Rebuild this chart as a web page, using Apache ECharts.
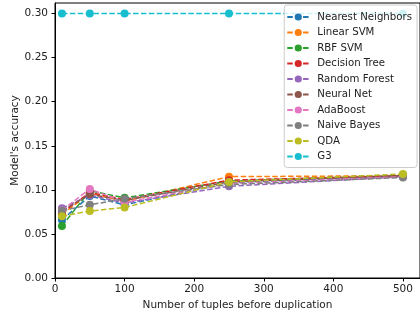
<!DOCTYPE html>
<html>
<head>
<meta charset="utf-8">
<script src="https://cdn.jsdelivr.net/npm/echarts@6/dist/echarts.min.js"></script>
<style>
  html, body { margin: 0; padding: 0; background: #fff; }
  #container { width: 420px; height: 315px; }
</style>
</head>
<body>
<div id="container"></div>
<script>
// x values: number of tuples before duplication
var tuples = [10, 50, 100, 250, 500];

var names = ['Nearest Neighbors', 'Linear SVM', 'RBF SVM', 'Decision Tree', 'Random Forest',
             'Neural Net', 'AdaBoost', 'Naive Bayes', 'QDA', 'G3'];

var nearestNeighbors = [0.066, 0.093, 0.083, 0.108, 0.116];
var linearSvm        = [0.072, 0.096, 0.087, 0.115, 0.116];
var rbfSvm           = [0.059, 0.099, 0.091, 0.110, 0.117];
var decisionTree     = [0.074, 0.097, 0.089, 0.111, 0.116];
var randomForest     = [0.079, 0.094, 0.085, 0.104, 0.115];
var neuralNet        = [0.076, 0.095, 0.088, 0.109, 0.116];
var adaBoost         = [0.077, 0.101, 0.086, 0.107, 0.115];
var naiveBayes       = [0.0765, 0.083, 0.090, 0.106, 0.114];
var qda              = [0.070, 0.076, 0.080, 0.109, 0.118];
var g3               = [0.30, 0.30, 0.30, 0.30, 0.30];

var values = [nearestNeighbors, linearSvm, rbfSvm, decisionTree, randomForest,
              neuralNet, adaBoost, naiveBayes, qda, g3];

var xTicks = [0, 100, 200, 300, 400, 500];
var yTicks = [0, 0.05, 0.10, 0.15, 0.20, 0.25, 0.30];

var colors = ['#1f77b4', '#ff7f0e', '#2ca02c', '#d62728', '#9467bd',
              '#8c564b', '#e377c2', '#7f7f7f', '#bcbd22', '#17becf'];

var dom = document.getElementById('container');
var myChart = echarts.init(dom, null, { renderer: 'canvas' });

var series = names.map(function (name, i) {
    return {
        name: name,
        type: 'line',
        symbol: 'circle',
        symbolSize: 8,
        showSymbol: true,
        animation: false,
        itemStyle: { color: colors[i] },
        lineStyle: { width: 1.5, type: [5.5, 2.4], color: colors[i] },
        emphasis: { disabled: true },
        data: tuples.map(function (x, j) { return [x, values[i][j]]; })
    };
});

var textColor = '#222';

var option = {
    animation: false,
    color: colors,
    grid: {
        left: 55, top: 3, width: 365, height: 275,
        outerBoundsMode: 'none',
        containLabel: false,
        show: true, borderColor: '#000', borderWidth: 1, backgroundColor: 'transparent'
    },
    legend: {
        data: names,
        orient: 'vertical',
        right: 3,
        top: 5,
        padding: [7, 5, 6, 2],
        itemWidth: 22,
        itemHeight: 9,
        itemGap: 5.5,
        backgroundColor: 'rgba(255,255,255,0.8)',
        borderColor: '#ccc',
        borderWidth: 1,
        borderRadius: 3,
        textStyle: { fontFamily: 'DejaVu Sans', fontSize: 10.2, color: textColor, padding: [0, 0, 0, 3] }
    },
    xAxis: {
        type: 'value',
        min: 0,
        max: 524.5,
        name: 'Number of tuples before duplication',
        nameLocation: 'middle',
        nameGap: 21,
        nameTextStyle: { fontFamily: 'DejaVu Sans', fontSize: 10.5, color: textColor },
        axisLine: { show: true, lineStyle: { color: '#000', width: 1 } },
        axisTick: { show: true, length: 3.5, lineStyle: { color: '#000' }, customValues: xTicks },
        axisLabel: { fontFamily: 'DejaVu Sans', fontSize: 10.5, color: textColor, margin: 6, customValues: xTicks },
        splitLine: { show: false }
    },
    yAxis: {
        type: 'value',
        min: 0,
        max: 0.312,
        name: "Model's accuracy",
        nameLocation: 'middle',
        nameGap: 34,
        nameMoveOverlap: false,
        nameTextStyle: { fontFamily: 'DejaVu Sans', fontSize: 10.5, color: textColor },
        axisLine: { show: true, lineStyle: { color: '#000', width: 1 } },
        axisTick: { show: true, length: 3.5, lineStyle: { color: '#000' }, customValues: yTicks },
        axisLabel: {
            fontFamily: 'DejaVu Sans', fontSize: 10.5, color: textColor, margin: 7,
            customValues: yTicks,
            formatter: function (v) { return v.toFixed(2); }
        },
        splitLine: { show: false }
    },
    series: series
};

myChart.setOption(option);
window.addEventListener('resize', myChart.resize);
</script>
</body>
</html>
